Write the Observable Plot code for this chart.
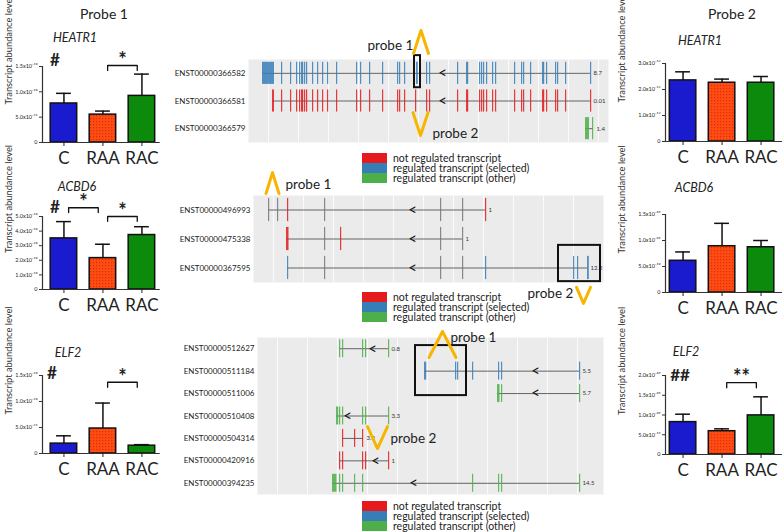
<!DOCTYPE html>
<html><head><meta charset="utf-8">
<script src="https://cdn.jsdelivr.net/npm/d3@7"></script>
<script src="https://cdn.jsdelivr.net/npm/@observablehq/plot@0.6"></script>
<style>
body{margin:0;background:#fff;font-family:Lato,'Open Sans',sans-serif;color:#222;}
#root{position:relative;width:784px;height:532px;overflow:hidden;background:#fff;}
.t{position:absolute;white-space:nowrap;transform:translate(-50%,-50%);}
.leg{position:absolute;font-size:10.5px;line-height:10px;}
.leg div{height:10px;display:flex;align-items:center;}
.leg span.sw{display:inline-block;width:25px;height:10px;margin-right:6px;}
</style></head><body>
<svg width="0" height="0" style="position:absolute"><defs>
<pattern id="raaHatch" width="3" height="3" patternUnits="userSpaceOnUse">
<rect width="3" height="3" fill="#ff4b14"/><rect width="1.2" height="1.2" fill="#d83000"/></pattern></defs></svg>
<div id="root"></div>
<script>
// ---------- bar chart data ----------
const groups = ["C", "RAA", "RAC"];
const groupFills = ["#1a1acf", "url(#raaHatch)", "#0b8a0b"];
const yAxisTitle = "Transcript abundance level";

const heatr1P1Mean = [0.77e-10, 0.55e-10, 0.92e-10];
const heatr1P1Upper = [0.97e-10, 0.62e-10, 1.35e-10];
const heatr1P1Ticks = [0, 5e-11, 1e-10, 1.5e-10];
const heatr1P1TickLabels = ["0", "5.0x10⁻¹¹", "1.0x10⁻¹⁰", "1.5x10⁻¹⁰"];
const heatr1P1Sig = [[1, 2, 1.52e-10, "*"]];
const heatr1P1Hash = ["#", 1.62e-10];

const acbd6P1Mean = [3.5e-10, 2.15e-10, 3.73e-10];
const acbd6P1Upper = [4.65e-10, 3.1e-10, 4.3e-10];
const acbd6P1Ticks = [0, 1e-10, 2e-10, 3e-10, 4e-10, 5e-10];
const acbd6P1TickLabels = ["0", "1.0x10⁻¹⁰", "2.0x10⁻¹⁰", "3.0x10⁻¹⁰", "4.0x10⁻¹⁰", "5.0x10⁻¹⁰"];
const acbd6P1Sig = [[0, 1, 5.6e-10, "*"], [1, 2, 5.0e-10, "*"]];
const acbd6P1Hash = ["#", 5.6e-10];

const elf2P1Mean = [0.19e-10, 0.48e-10, 0.15e-10];
const elf2P1Upper = [0.34e-10, 0.97e-10, 0.17e-10];
const elf2P1Ticks = [0, 5e-11, 1e-10, 1.5e-10];
const elf2P1TickLabels = ["0", "5.0x10⁻¹¹", "1.0x10⁻¹⁰", "1.5x10⁻¹⁰"];
const elf2P1Sig = [[1, 2, 1.37e-10, "*"]];
const elf2P1Hash = ["#", 1.54e-10];

const heatr1P2Mean = [2.35e-12, 2.26e-12, 2.26e-12];
const heatr1P2Upper = [2.68e-12, 2.4e-12, 2.5e-12];
const heatr1P2Ticks = [0, 1e-12, 2e-12, 3e-12];
const heatr1P2TickLabels = ["0", "1.0x10⁻¹²", "2.0x10⁻¹²", "3.0x10⁻¹²"];

const acbd6P2Mean = [0.61e-9, 0.89e-9, 0.87e-9];
const acbd6P2Upper = [0.78e-9, 1.33e-9, 1.0e-9];
const acbd6P2Ticks = [0, 5e-10, 1e-9, 1.5e-9];
const acbd6P2TickLabels = ["0", "5.0x10⁻¹⁰", "1.0x10⁻⁰⁹", "1.5x10⁻⁰⁹"];

const elf2P2Mean = [0.82e-9, 0.59e-9, 0.99e-9];
const elf2P2Upper = [1.02e-9, 0.65e-9, 1.46e-9];
const elf2P2Ticks = [0, 5e-10, 1e-9, 1.5e-9, 2e-9];
const elf2P2TickLabels = ["0", "5.0x10⁻¹¹", "1.0x10⁻⁰⁹", "1.5x10⁻⁰⁹", "2.0x10⁻⁰⁹"];
const elf2P2Sig = [[1, 2, 1.82e-9, "**"]];
const elf2P2Hash = ["##", 2.0e-9];

// ---------- transcript structure data ----------
const legendLabels = ["not regulated transcript", "regulated transcript (selected)", "regulated transcript (other)"];
const legendColors = ["#e41a1c", "#377eb8", "#4daf4a"];
const kindColor = {not: "#e41a1c", selected: "#377eb8", other: "#4daf4a", shared: "#777777"};

// panel 1 (HEATR1)
const p1Ids = ["ENST00000366582", "ENST00000366581", "ENST00000366579"];
const p1Type = ["selected", "not", "other"];
const p1Start = [14, 24, 337];
const p1End = [342, 342, 345];
const p1Value = ["8.7", "0.01", "1.4"];
const p1Arrow = [194, 194, null];
const p1Exons = [
  [[14, 12], 33, 42, 48, 51, 53, 54, 56, 58, 64, 69, 74, 79, 88, 108, 112, 121, 134, 149, 151, 156, [168, 1.8], 178, 181, 209, 218, 219, 231, 233, 235, 238, 244, 247, 266, 273, 275, 282, 294, 295, 298, 307, 309, 317, 342],
  [[24, 2], 33, 42, 48, 51, 53, 54, 56, 58, 64, 69, 74, 79, 88, 108, 112, 121, 134, 149, 151, 156, 167, 178, 181, 209, 218, 219, 231, 233, 235, 238, 244, 247, 266, 273, 275, 282, 294, 295, 298, 307, 309, 317, 342],
  [[337, 4], 344]
];
const p1Chevrons = [{x: 172.5, tip: -1.55, base: -0.72, half: 7.5}, {x: 172, tip: 2.25, base: 1.42, half: 7.5}];
const p1Boxes = [{x1: 166, x2: 172, y1: -0.64, y2: 0.52}];
const p1Labels = [{x: 119, y: -1.0, text: "probe 1"}, {x: 184, y: 2.18, text: "probe 2"}];

// panel 2 (ACBD6)
const p2Ids = ["ENST00000496993", "ENST00000475338", "ENST00000367595"];
const p2Type = ["not", "not", "selected"];
const p2Start = [15, 33, 34];
const p2End = [232, 209, 334];
const p2Value = ["1", "1", "12.2"];
const p2Arrow = [159, 159, 159];
const p2Exons = [
  [[15, 1.2, "shared"], [24, 1.2, "shared"], 34, [71, 1.2, "shared"], [187, 1.2, "shared"], [209, 1.2, "shared"], 232],
  [[33, 2.5], [71, 1.2, "shared"], 87, [187, 1.2, "shared"], [209, 1.2, "shared"]],
  [34, [71, 1.2, "shared"], [187, 1.2, "shared"], [209, 1.2, "shared"], 232, 320, 324, [334, 1.8]]
];
const p2Chevrons = [{x: 19, tip: -1.29, base: -0.57, half: 6.5}, {x: 330, tip: 3.22, base: 2.67, half: 7}];
const p2Boxes = [{x1: 305, x2: 347, y1: 1.22, y2: 2.47}];
const p2Labels = [{x: 32, y: -0.88, text: "probe 1"}, {x: 274, y: 2.88, text: "probe 2"}];

// panel 3 (ELF2)
const p3Ids = ["ENST00000512627", "ENST00000511184", "ENST00000511006", "ENST00000510408", "ENST00000504314", "ENST00000420916", "ENST00000394235"];
const p3Type = ["other", "selected", "other", "other", "not", "not", "other"];
const p3Start = [82, 167, 240, 79, 85, 82, 75];
const p3End = [131, 322, 322, 131, 106, 131, 322];
const p3Value = ["0.8", "5.5", "5.7", "3.3", "3.2", "1", "14.5"];
const p3Arrow = [115, 278, 278, 90, null, 118, 156];
const p3Exons = [
  [82, 85, 105, 108, 131],
  [[167, 2.2], 198, 200, 215, 241, 244, 322],
  [[240, 2.5], 244, 322],
  [[79, 2.2], 82, 85, 105, 108, 131],
  [85, 97, 105],
  [82, 85, 105, 108, 131],
  [[75, 4.5], 82, 85, 97, 105, 215, 241, 244, 322]
];
const p3Chevrons = [{x: 185, tip: -0.77, base: 0.39, half: 13.5}, {x: 120, tip: 4.45, base: 3.47, half: 10}];
const p3Boxes = [{x1: 158, x2: 209, y1: -0.14, y2: 2.09}];
const p3Labels = [{x: 193, y: -0.5, text: "probe 1"}, {x: 133, y: 4.0, text: "probe 2"}];

// ---------- rendering ----------
const fontFam = "Lato, 'Open Sans', sans-serif";
const root = document.getElementById("root");
const baseStyle = {fontFamily: fontFam, background: "transparent", overflow: "visible", color: "#222"};
function place(el, left, top) {
  el.style.position = "absolute"; el.style.left = left + "px"; el.style.top = top + "px";
  root.appendChild(el);
}
function textAt(text, cx, cy, css) {
  const d = document.createElement("div"); d.className = "t"; d.textContent = text;
  d.style.left = cx + "px"; d.style.top = cy + "px"; d.style.cssText += css || "";
  root.appendChild(d);
}

function barChart(c) {
  const rows = groups.map((g, i) => ({i, g, mean: c.mean[i], upper: c.upper[i], fill: groupFills[i]}));
  const yMax = c.ticks[c.ticks.length - 1];
  const unit = 39;
  const mL = c.axisX - c.left, mT = c.topTickY - c.top, mB = 30, mR = 4;
  const plotH = c.baseY - c.topTickY, plotW = (c.xMax - c.xMin) * unit;
  const leg = yMax * 0.065;
  const br = (c.sig || []).map(([a, b, level, label]) => ({a, b, level, label}));
  const brPts = br.flatMap((s, k) => [
    {k, x: s.a + 0.12, y: s.level - leg}, {k, x: s.a + 0.12, y: s.level},
    {k, x: s.b - 0.12, y: s.level}, {k, x: s.b - 0.12, y: s.level - leg}]);
  const marks = [
    Plot.rect(rows, {x1: d => d.i - 0.34, x2: d => d.i + 0.34, y1: 0, y2: "mean", fill: "fill", stroke: "#111", strokeWidth: 1.5}),
    Plot.ruleX(rows, {x: "i", y1: "mean", y2: "upper", stroke: "#111", strokeWidth: 1.5}),
    Plot.ruleY(rows, {y: "upper", x1: d => d.i - 0.19, x2: d => d.i + 0.19, stroke: "#111", strokeWidth: 1.5}),
    Plot.ruleY([0], {stroke: "#333", strokeWidth: 1.2}),
    Plot.ruleX([c.xMin], {y1: 0, y2: yMax, stroke: "#333", strokeWidth: 1.2}),
    Plot.axisY({ticks: c.ticks, tickFormat: d => c.tickLabels[c.ticks.indexOf(d)], fontSize: 5.5, tickSize: 3, tickPadding: 2, label: null, stroke: "#333"}),
    Plot.axisX({ticks: [0, 1, 2], tickFormat: i => groups[i], fontSize: 17, tickSize: 4, tickPadding: 5, label: null}),
    Plot.text([yAxisTitle], {frameAnchor: "left", rotate: -90, dx: c.titleX - c.axisX, text: d => d, fontSize: 9.3, fill: "#333"}),
    Plot.line(brPts, {x: "x", y: "y", z: "k", stroke: "#111", strokeWidth: 1.3}),
    Plot.text(br, {x: d => (d.a + d.b) / 2, y: "level", text: "label", dy: -5, fontSize: 20, fontWeight: "bold"})
  ];
  if (c.hash) marks.push(Plot.text([c.hash], {x: 0, y: d => d[1], text: d => d[0], dx: c.hashDx, fontSize: 17, fontWeight: "bold"}));
  const svg = Plot.plot({
    width: mL + plotW + mR, height: mT + plotH + mB,
    marginLeft: mL, marginTop: mT, marginBottom: mB, marginRight: mR,
    x: {domain: [c.xMin, c.xMax]}, y: {domain: [0, yMax]},
    color: {type: "identity"},
    style: baseStyle,
    marks
  });
  place(svg, c.left, c.top);
}

function genePanel(c, d) {
  const n = d.ids.length;
  const tx = d.ids.map((id, i) => ({i, id, start: d.start[i], end: d.end[i], value: d.value[i], arrow: d.arrow[i]}));
  const ex = d.exons.flatMap((list, i) => list.map(e => {
    const [pos, w, kind] = Array.isArray(e) ? e : [e];
    return {row: i, x1: pos, x2: pos + (w ?? 1.2), kind: kind ?? d.type[i]};
  }));
  const W = c.frameRight - c.frameLeft, H = c.frameBottom - c.frameTop;
  const mL = c.frameLeft - c.left, mT = c.frameTop - c.svgTop, mB = c.svgBottom - c.frameBottom, mR = 6;
  const chev = d.chevrons.flatMap((p, k) => [
    {k, x: p.x - p.half, y: p.base}, {k, x: p.x, y: p.tip}, {k, x: p.x + p.half, y: p.base}]);
  const svg = Plot.plot({
    width: mL + W + mR, height: mT + H + mB,
    marginLeft: mL, marginTop: mT, marginBottom: mB, marginRight: mR,
    x: {domain: [0, W], axis: null}, y: {domain: [-0.5, n - 0.5], reverse: true},
    color: {type: "identity"},
    style: baseStyle,
    marks: [
      Plot.frame({fill: "#ebebeb", stroke: "none"}),
      Plot.gridX({ticks: d3.range(20, W, 30), stroke: "white", strokeOpacity: 0.8}),
      Plot.ruleY(tx, {y: "i", x1: "start", x2: "end", stroke: "#555", strokeWidth: 0.9}),
      Plot.rect(ex, {x1: "x1", x2: "x2", y1: e => e.row - 0.4, y2: e => e.row + 0.4, fill: e => kindColor[e.kind], fillOpacity: 0.85}),
      Plot.text(tx.filter(t => t.arrow != null), {x: "arrow", y: "i", text: () => "<", fontSize: 15, fill: "#111"}),
      Plot.text(tx, {x: "end", y: "i", text: "value", dx: 3, textAnchor: "start", fontSize: 6, fill: "#333"}),
      Plot.axisY({ticks: d3.range(n), tickFormat: i => d.ids[i], tickSize: 0, tickPadding: 3, fontSize: 8, label: null}),
      Plot.rect(d.boxes, {x1: "x1", x2: "x2", y1: "y1", y2: "y2", fill: "none", stroke: "#111", strokeWidth: 2}),
      Plot.line(chev, {x: "x", y: "y", z: "k", stroke: "#f7b500", strokeWidth: 3}),
      Plot.text(d.labels, {x: "x", y: "y", text: "text", textAnchor: "start", fontSize: 13.5, fill: "#222"})
    ]
  });
  place(svg, c.left, c.svgTop);
}

function legend(top) {
  const box = document.createElement("div"); box.className = "leg";
  legendLabels.forEach((l, i) => {
    const row = document.createElement("div");
    const sw = document.createElement("span"); sw.className = "sw"; sw.style.background = legendColors[i];
    row.appendChild(sw); row.appendChild(document.createTextNode(l)); box.appendChild(row);
  });
  place(box, 362, top);
}

// gene structure panels
genePanel({left: 170, frameLeft: 248, frameRight: 608, frameTop: 59, frameBottom: 142, svgTop: 22, svgBottom: 146},
  {ids: p1Ids, type: p1Type, start: p1Start, end: p1End, value: p1Value, arrow: p1Arrow, exons: p1Exons, chevrons: p1Chevrons, boxes: p1Boxes, labels: p1Labels});
genePanel({left: 170, frameLeft: 253, frameRight: 603, frameTop: 195, frameBottom: 282, svgTop: 166, svgBottom: 308},
  {ids: p2Ids, type: p2Type, start: p2Start, end: p2End, value: p2Value, arrow: p2Arrow, exons: p2Exons, chevrons: p2Chevrons, boxes: p2Boxes, labels: p2Labels});
genePanel({left: 170, frameLeft: 257, frameRight: 603, frameTop: 337, frameBottom: 494, svgTop: 324, svgBottom: 498},
  {ids: p3Ids, type: p3Type, start: p3Start, end: p3End, value: p3Value, arrow: p3Arrow, exons: p3Exons, chevrons: p3Chevrons, boxes: p3Boxes, labels: p3Labels});
legend(153); legend(292); legend(501);

// bar charts
barChart({mean: heatr1P1Mean, upper: heatr1P1Upper, ticks: heatr1P1Ticks, tickLabels: heatr1P1TickLabels, sig: heatr1P1Sig, hash: heatr1P1Hash, hashDx: -9,
  left: 0, top: 40, axisX: 42, topTickY: 66, baseY: 142, xMin: -0.55, xMax: 2.47, titleX: 9});
barChart({mean: acbd6P1Mean, upper: acbd6P1Upper, ticks: acbd6P1Ticks, tickLabels: acbd6P1TickLabels, sig: acbd6P1Sig, hash: acbd6P1Hash, hashDx: -9,
  left: 0, top: 190, axisX: 42, topTickY: 216, baseY: 289, xMin: -0.55, xMax: 2.47, titleX: 9});
barChart({mean: elf2P1Mean, upper: elf2P1Upper, ticks: elf2P1Ticks, tickLabels: elf2P1TickLabels, sig: elf2P1Sig, hash: elf2P1Hash, hashDx: -12,
  left: 0, top: 350, axisX: 42, topTickY: 375, baseY: 453, xMin: -0.55, xMax: 2.47, titleX: 9});
barChart({mean: heatr1P2Mean, upper: heatr1P2Upper, ticks: heatr1P2Ticks, tickLabels: heatr1P2TickLabels,
  left: 612, top: 40, axisX: 665, topTickY: 63, baseY: 141, xMin: -0.45, xMax: 2.55, titleX: 622});
barChart({mean: acbd6P2Mean, upper: acbd6P2Upper, ticks: acbd6P2Ticks, tickLabels: acbd6P2TickLabels,
  left: 612, top: 190, axisX: 665, topTickY: 214, baseY: 292, xMin: -0.45, xMax: 2.55, titleX: 622});
barChart({mean: elf2P2Mean, upper: elf2P2Upper, ticks: elf2P2Ticks, tickLabels: elf2P2TickLabels, sig: elf2P2Sig, hash: elf2P2Hash, hashDx: -3,
  left: 612, top: 350, axisX: 665, topTickY: 375, baseY: 454, xMin: -0.45, xMax: 2.55, titleX: 622});

// titles
textAt("Probe 1", 104, 13, "font-size:14px;");
textAt("Probe 2", 732, 13, "font-size:14px;");
textAt("HEATR1", 75, 37, "font-size:12.5px;font-style:italic;");
textAt("ACBD6", 77, 186, "font-size:12.5px;font-style:italic;");
textAt("ELF2", 68, 352, "font-size:12.5px;font-style:italic;");
textAt("HEATR1", 700, 40, "font-size:12.5px;font-style:italic;");
textAt("ACBD6", 694, 187, "font-size:12.5px;font-style:italic;");
textAt("ELF2", 686, 351, "font-size:12.5px;font-style:italic;");
</script></body></html>
